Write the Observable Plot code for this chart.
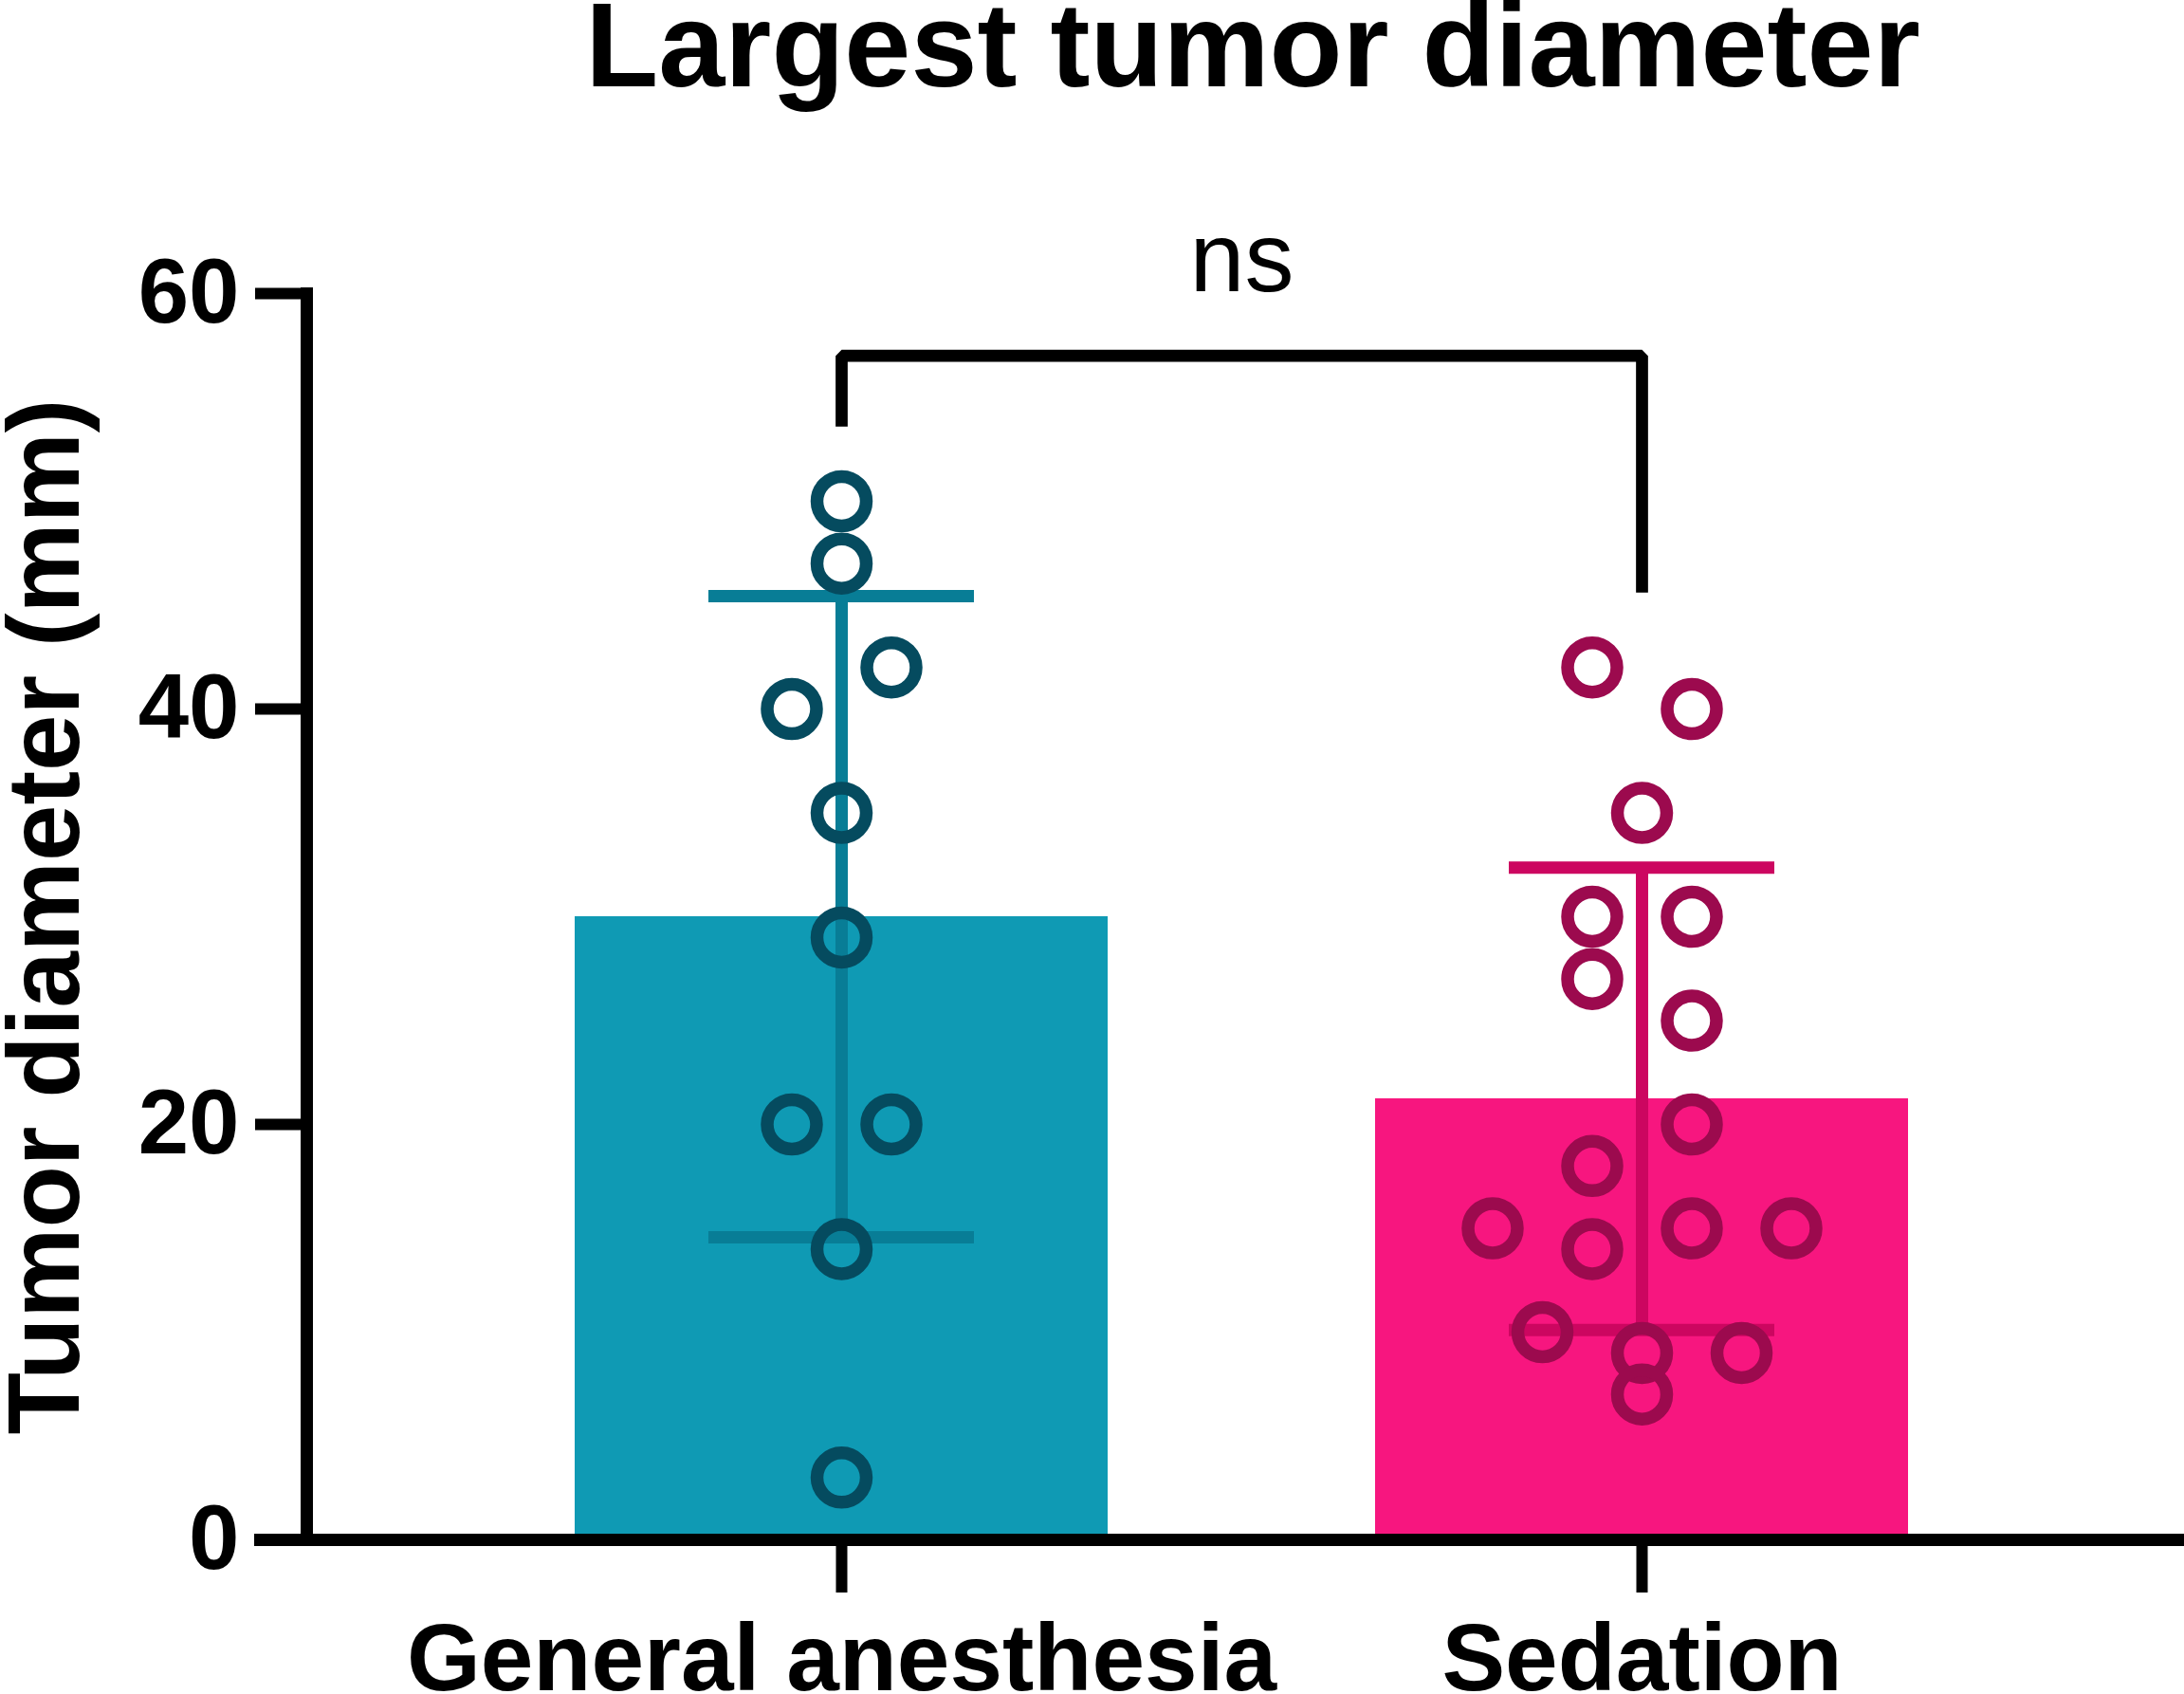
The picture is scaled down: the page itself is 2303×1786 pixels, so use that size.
<!DOCTYPE html>
<html>
<head>
<meta charset="utf-8">
<script src="https://cdn.jsdelivr.net/npm/d3@7"></script>
<script src="https://cdn.jsdelivr.net/npm/@observablehq/plot@0.6"></script>
<style>
  html, body { margin: 0; padding: 0; background: #fff; overflow: hidden; }
  #wrap { position: relative; width: 2303px; height: 1786px; background: #fff; }
  #title {
    position: absolute; top: 0; left: 339px; width: 1964px; height: 95px;
    text-align: center; font-family: "Liberation Sans", Arial, sans-serif;
    font-weight: bold; font-size: 126px; line-height: 95px; color: #000;
    white-space: nowrap; z-index: 2;
  }
  #chart { position: absolute; top: 95px; left: 0; z-index: 1; }
</style>
</head>
<body>
<div id="wrap">
  <div id="title"></div>
  <div id="chart"></div>
</div>
<script>
// ---- data ----
const titleText = "Largest tumor diameter";
const yLabel = "Tumor diameter (mm)";
const groups = ["General anesthesia", "Sedation"];
const gaValues = [50, 47, 40, 42, 35, 29, 20, 20, 14, 3];
const sedValues = [42, 40, 35, 30, 30, 27, 25, 18, 20, 15, 14, 15, 15, 10, 9, 9, 7];
const yTicks = [0, 20, 40, 60];
const sigLabel = "ns";
const bracketLevel = 57;
const bracketEnds = [53.6, 45.6];
const sigLabelLevel = 60.1;

// ---- styles ----
const barColors = ["#0f9ab4", "#f7167f"];
const errColors = ["#087d96", "#cc0660"];
const dotColors = ["#054b5f", "#9c0a4e"];
const halfStep = 52.5;   // px between swarm columns
const rowTol = 2.5;      // values closer than this share a swarm row

function swarmSlots(values, tol) {
  const order = d3.range(values.length).sort((a, b) => values[b] - values[a] || a - b);
  const out = new Array(values.length);
  let row = [];
  const flush = () => {
    const r = row.slice().sort((a, b) => a - b);
    r.forEach((k, i) => { out[k] = 2 * i - (r.length - 1); });
    row = [];
  };
  for (const k of order) {
    if (row.length && values[row[0]] - values[k] >= tol) flush();
    row.push(k);
  }
  flush();
  return out;
}

const series = [gaValues, sedValues];
const summary = groups.map((g, i) => {
  const m = d3.mean(series[i]);
  const s = d3.deviation(series[i]);
  return {group: g, mean: m, lo: m - s, hi: m + s, bar: barColors[i], err: errColors[i]};
});

const points = [];
series.forEach((vals, i) => {
  const slots = swarmSlots(vals, rowTol);
  vals.forEach((v, k) => points.push({group: groups[i], value: v, slot: slots[k], color: dotColors[i]}));
});
const dotMarks = d3.groups(points, d => d.slot).map(([s, pts]) =>
  Plot.dot(pts, {x: "group", y: "value", r: 26, fill: "none", stroke: "color", strokeWidth: 13.5, dx: s * halfStep})
);

const bracketPts = [
  {x: groups[0], y: bracketEnds[0]},
  {x: groups[0], y: bracketLevel},
  {x: groups[1], y: bracketLevel},
  {x: groups[1], y: bracketEnds[1]}
];

const plot = Plot.plot({
  width: 2303,
  height: 1691,
  marginLeft: 323,
  marginRight: 8,
  marginTop: 214,
  marginBottom: 163,
  x: {domain: groups, padding: 0.334, axis: null},
  y: {domain: [0, 60], axis: null},
  color: {type: "identity"},
  style: {fontFamily: "Liberation Sans, Arial, sans-serif", background: "transparent", overflow: "visible", color: "black"},
  marks: [
    Plot.barY(summary, {x: "group", y: "mean", fill: "bar"}),
    Plot.ruleX(summary, {x: "group", y1: "lo", y2: "hi", stroke: "err", strokeWidth: 13}),
    Plot.tickY(summary, {x: "group", y: "hi", stroke: "err", strokeWidth: 13, insetLeft: 141, insetRight: 141}),
    Plot.tickY(summary, {x: "group", y: "lo", stroke: "err", strokeWidth: 13, insetLeft: 141, insetRight: 141}),
    ...dotMarks,
    Plot.ruleY([0], {stroke: "black", strokeWidth: 13, insetLeft: -55, insetRight: -8}),
    Plot.frame({anchor: "left", stroke: "black", strokeWidth: 13}),
    Plot.axisY({ticks: yTicks, tickSize: 54, tickPadding: 17, fontSize: 96, fontWeight: "bold", strokeWidth: 12, label: null}),
    Plot.axisX({tickSize: 56, tickPadding: 31, fontSize: 100, fontWeight: "bold", strokeWidth: 12, label: null}),
    Plot.line(bracketPts, {x: "x", y: "y", stroke: "black", strokeWidth: 12.7, strokeLinejoin: "miter", strokeLinecap: "butt"}),
    Plot.text([{label: sigLabel, y: sigLabelLevel}], {text: "label", y: "y", frameAnchor: "middle", lineAnchor: "bottom", fontSize: 104, fill: "black"}),
    Plot.text([yLabel], {frameAnchor: "left", textAnchor: "middle", rotate: -90, dx: -241, lineAnchor: "bottom", fontSize: 107, fontWeight: "bold", fill: "black"})
  ]
});
document.getElementById("title").textContent = titleText;
document.getElementById("chart").appendChild(plot);
</script>
</body>
</html>
